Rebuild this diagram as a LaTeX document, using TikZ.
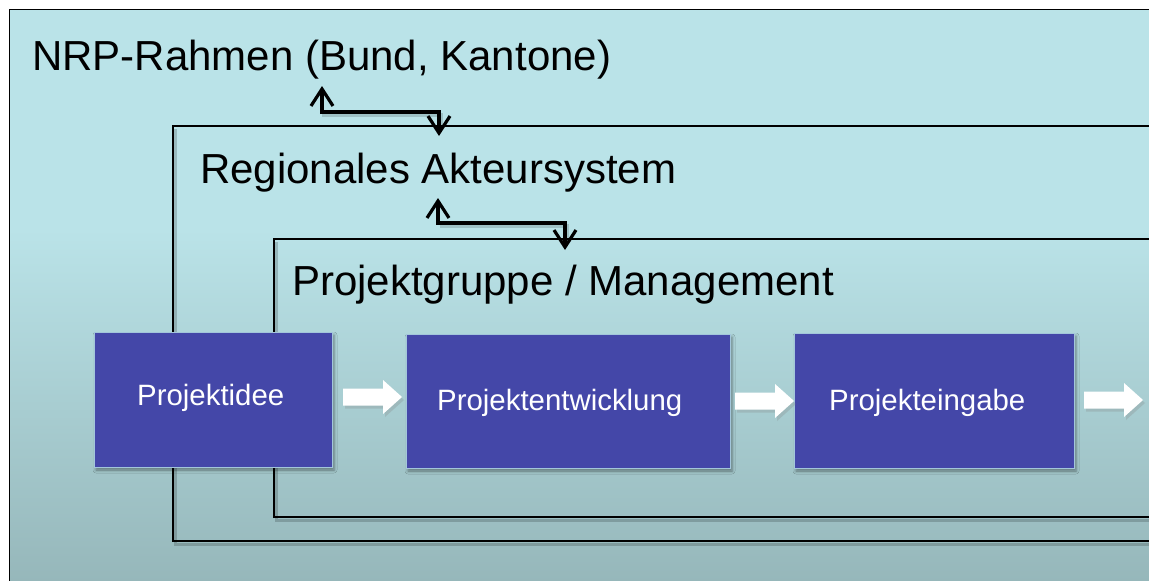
\documentclass[tikz,border=0pt]{standalone}
\usepackage{fontspec}
\setmainfont{Liberation Sans}
\usetikzlibrary{arrows.meta,shadows.blur,calc}

\definecolor{bgtop}{HTML}{BAE3E8}
\definecolor{bgbottom}{HTML}{95B6B9}
\definecolor{stepfill}{HTML}{4447A8}
\definecolor{stepedge}{HTML}{A3C6DB}

\tikzset{
  framebox/.style={draw=black, line width=1.4pt},
  frameshade/.style={draw=black, line width=3pt, opacity=0.18},
  level/.style={font=\fontsize{42}{48}\selectfont, text=black, inner sep=0pt, anchor=base west},
  stepbox/.style={fill=stepfill, draw=stepedge, line width=1pt, inner sep=0pt, outer sep=0pt,
    blur shadow={shadow xshift=2pt, shadow yshift=-3pt, shadow blur radius=3pt, shadow opacity=40}},
  steptext/.style={font=\fontsize{29.4}{34}\selectfont, text=white, inner sep=0pt, anchor=base west},
  barb/.tip={Straight Barb[length=17pt, width=22pt, line width=3.2pt]},
  link/.style={draw=black, line width=3.4pt, line join=miter, barb-barb},
  linkshade/.style={draw=black, line width=4pt, opacity=0.15},
  flowarrow/.pic={
    \fill[gray, opacity=0.25] (2,11.5) -- (42,11.5) -- (42,20) -- (61,3) -- (42,-14) -- (42,-5.5) -- (2,-5.5) -- cycle;
    \fill[white] (0,8.5) -- (40,8.5) -- (40,17) -- (59,0) -- (40,-17) -- (40,-8.5) -- (0,-8.5) -- cycle;
  }
}

\begin{document}
\begin{tikzpicture}[x=1pt, y=-1pt]
  \useasboundingbox (0,0) rectangle (1149,581);

  % background panel with its vertical gradient
  \fill[bgtop] (9.5,9.5) rectangle (1160,230);
  \shade[top color=bgtop, bottom color=bgbottom] (9.5,229) rectangle (1160,590);
  \draw[framebox, line width=1.8pt] (1160,9.5) -- (9.5,9.5) -- (9.5,590);

  % nested frames, open to the right
  \draw[frameshade] (1160,544) -- (175,544) -- (175,129);
  \draw[framebox] (1160,126) -- (173,126) -- (173,541) -- (1160,541);
  \draw[frameshade] (1160,520) -- (276,520) -- (276,242);
  \draw[framebox] (1160,239) -- (274,239) -- (274,517) -- (1160,517);

  % level titles
  \node[level] (nrp) at (32,70) {NRP-Rahmen (Bund, Kantone)};
  \node[level] (region) at (200,183) {Regionales Akteursystem};
  \node[level] (gruppe) at (292,295) {Projektgruppe / Management};

  % links between the levels
  \coordinate (nrpEnd) at (322,86);
  \coordinate (regionTop) at (439,136);
  \coordinate (regionEnd) at (438,198);
  \coordinate (gruppeTop) at (565,250);
  \draw[linkshade] ($(nrpEnd)+(2,28)$) |- ($(regionTop)+(2,-21)$) -- ($(regionTop)+(2,-6)$);
  \draw[linkshade] ($(regionEnd)+(2,28)$) |- ($(gruppeTop)+(2,-24)$) -- ($(gruppeTop)+(2,-6)$);
  \draw[link] (nrpEnd) |- ($(regionTop)+(0,-24)$) -- (regionTop);
  \draw[link] (regionEnd) |- ($(gruppeTop)+(0,-27)$) -- (gruppeTop);

  % project steps
  \node[stepbox, minimum width=238pt, minimum height=135pt] (idee) at (213,399.5) {};
  \node[stepbox, minimum width=324pt, minimum height=134pt] (entw) at (568,401) {};
  \node[stepbox, minimum width=280pt, minimum height=135pt] (eing) at (934,400.5) {};
  \node[steptext] (ideeText) at (137,405) {Projektidee};
  \node[steptext] (entwText) at (437,410) {Projektentwicklung};
  \node[steptext] (eingText) at (829,410) {Projekteingabe};

  % flow between the steps
  \path ($(idee.east)+(11,-2.5)$) pic {flowarrow};
  \path ($(entw.east)+(5,0)$) pic {flowarrow};
  \path ($(eing.east)+(10,-0.5)$) pic {flowarrow};
\end{tikzpicture}
\end{document}
